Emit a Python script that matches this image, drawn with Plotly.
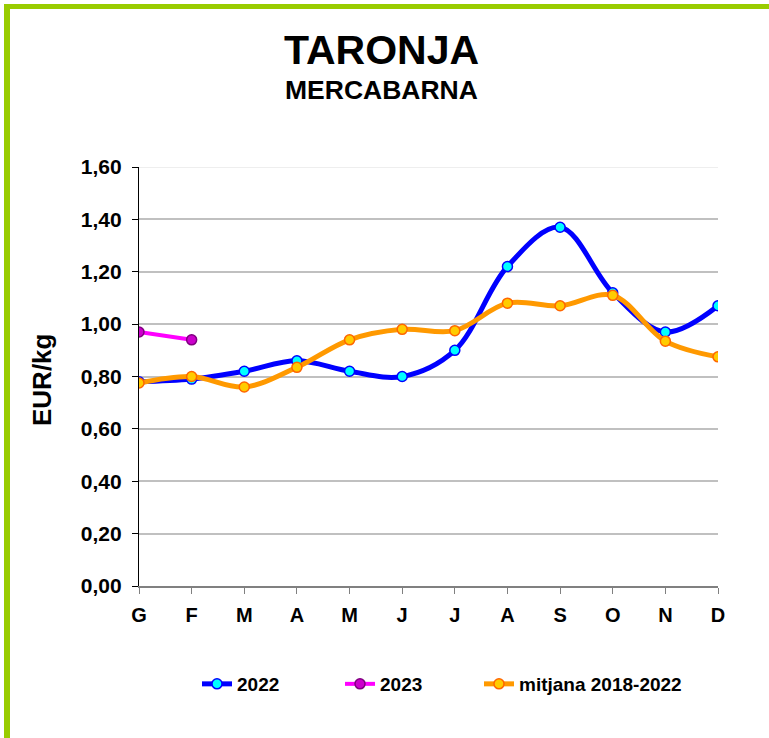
import plotly.graph_objects as go

months = ["G", "F", "M", "A", "M", "J", "J", "A", "S", "O", "N", "D"]
y2022 = [0.78, 0.79, 0.82, 0.86, 0.82, 0.80, 0.90, 1.22, 1.37, 1.12, 0.97, 1.07]
y2023 = [0.97, 0.94]
mitjana = [0.775, 0.80, 0.76, 0.835, 0.94, 0.98, 0.975, 1.08, 1.07, 1.11, 0.935, 0.875]
yticks = [0, 0.2, 0.4, 0.6, 0.8, 1.0, 1.2, 1.4, 1.6]

FONT = "Liberation Sans, Arial, sans-serif"
idx = list(range(len(months)))

fig = go.Figure()
fig.add_trace(go.Scatter(
    x=idx, y=y2022, name="2022", mode="lines+markers", legend="legend",
    line=dict(color="#0000FF", width=5, shape="spline", smoothing=1),
    marker=dict(size=10, color="#00FFFF", line=dict(color="#0000FF", width=1.5)),
))
fig.add_trace(go.Scatter(
    x=idx[:len(y2023)], y=y2023, name="2023", mode="lines+markers", legend="legend2",
    line=dict(color="#FF00FF", width=4, shape="spline", smoothing=1),
    marker=dict(size=10, color="#CC00CC", line=dict(color="#800080", width=1.5)),
))
fig.add_trace(go.Scatter(
    x=idx, y=mitjana, name="mitjana 2018-2022", mode="lines+markers", legend="legend3",
    line=dict(color="#FF9900", width=5, shape="spline", smoothing=1),
    marker=dict(size=10, color="#FFCC00", line=dict(color="#FF6600", width=1.5)),
))

W, H = 769, 738
L, R, T, B = 139, 51, 167, 152
pw, ph = W - L - R, H - T - B

def px(x):
    return (x - L) / pw

def py(y):
    return (H - B - y) / ph

legfont = dict(size=19, family=FONT, color="black", weight="bold")

def leg(xpix):
    return dict(orientation="h", x=px(xpix), y=py(684), xanchor="left", yanchor="middle",
                font=legfont, bgcolor="rgba(0,0,0,0)", borderwidth=0)

fig.update_layout(
    width=W, height=H,
    margin=dict(l=L, r=R, t=T, b=B),
    paper_bgcolor="white", plot_bgcolor="white",
    separators=",.",
    font=dict(family=FONT, color="black"),
    showlegend=True,
    legend=leg(197),
    legend2=leg(340),
    legend3=leg(479),
    xaxis=dict(
        range=[0, len(months) - 1], tickvals=idx, ticktext=months,
        showgrid=False, zeroline=False,
        showline=True, linecolor="#808080", linewidth=1.5,
        ticks="outside", ticklen=6, tickcolor="#808080",
        tickfont=dict(size=20, family=FONT, color="black", weight="bold"),
        ticklabelstandoff=4,
    ),
    yaxis=dict(
        range=[0, 1.6], tickvals=yticks, tickformat=".2f",
        showgrid=True, gridcolor="#C0C0C0", gridwidth=2,
        zeroline=False,
        showline=True, linecolor="black", linewidth=1.2,
        ticks="outside", ticklen=6, tickcolor="black",
        tickfont=dict(size=21, family=FONT, color="black", weight="bold"),
        ticklabelstandoff=6,
    ),
    annotations=[
        dict(text="<b>TARONJA</b>", x=px(381), y=py(50), xref="paper", yref="paper",
             showarrow=False, font=dict(size=41, family=FONT, color="black"),
             xanchor="center", yanchor="middle"),
        dict(text="<b>MERCABARNA</b>", x=px(381), y=py(90), xref="paper", yref="paper",
             showarrow=False, font=dict(size=26.5, family=FONT, color="black"),
             xanchor="center", yanchor="middle"),
        dict(text="<b>EUR/kg</b>", x=px(42), y=py(380), xref="paper", yref="paper",
             showarrow=False, textangle=-90, font=dict(size=26, family=FONT, color="black"),
             xanchor="center", yanchor="middle"),
    ],
    shapes=[
        dict(type="line", xref="paper", yref="y", x0=0, x1=1, y0=1.6, y1=1.6, layer="between",
             line=dict(color="#EEEEEE", width=2)),
        dict(type="line", xref="paper", yref="paper", x0=px(4), x1=px(772), y0=py(6.5), y1=py(6.5),
             line=dict(color="#99CC00", width=5)),
        dict(type="line", xref="paper", yref="paper", x0=px(7), x1=px(7), y0=py(4), y1=py(742),
             line=dict(color="#99CC00", width=6)),
    ],
)

fig.write_html("out.html", config={"displayModeBar": False},
               post_script="document.body.style.margin='0';document.body.style.overflow='hidden';")
